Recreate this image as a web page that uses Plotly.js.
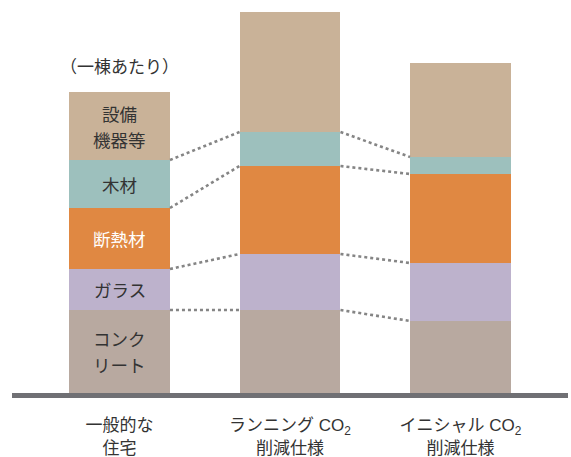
<!DOCTYPE html>
<html>
<head>
<meta charset="utf-8">
<script src="https://cdn.plot.ly/plotly-3.0.1.min.js"></script>
<style>html,body{margin:0;padding:0;background:#fff;}#chart{width:571px;height:457px;}</style>
</head>
<body>
<div id="chart"></div>
<script>
// Data (relative CO2 amounts)
const categories = ['一般的な<br>住宅', 'ランニング CO<sub>2</sub><br>削減仕様', 'イニシャル CO<sub>2</sub><br>削減仕様'];
const seriesNames = ['コンクリート', 'ガラス', '断熱材', '木材', '設備機器等'];
const concrete   = [83, 83, 72];
const glass      = [41, 56, 58];
const insulation = [61, 88, 89];
const wood       = [48, 34, 17];
const equipment  = [68, 120, 94];
// labels shown inside the first bar (one entry per text line)
const segmentLabels = [['コンク', 'リート'], ['ガラス'], ['断熱材'], ['木材'], ['設備', '機器等']];
const unitNote = '（一棟あたり）';

const series = [concrete, glass, insulation, wood, equipment];
const colors = ['#b8a9a0', '#bdb2cc', '#e08842', '#9dc0bd', '#c9b298'];
const labelColors = ['#333333', '#333333', '#ffffff', '#333333', '#333333'];
const xs = categories.map((c, i) => i);
const barWidth = 0.592;
const FONT = '"Noto Sans CJK JP", "Noto Sans", sans-serif';
const TICKFONT = '"Liberation Sans", "Noto Sans CJK JP", sans-serif';

const traces = [];
series.forEach((vals, k) => {
  traces.push({
    type: 'bar', x: xs, y: vals, name: seriesNames[k], width: barWidth,
    marker: {color: colors[k], line: {width: 0}}, hoverinfo: 'skip', showlegend: false
  });
});

// cumulative tops
const cum = series.map((_, k) => xs.map(i => series.slice(0, k + 1).reduce((s, a) => s + a[i], 0)));

// dotted connectors at each boundary (except total top)
for (let k = 0; k < series.length - 1; k++) {
  for (let i = 0; i < xs.length - 1; i++) {
    traces.push({
      type: 'scatter', mode: 'lines',
      x: [xs[i] + barWidth / 2, xs[i + 1] - barWidth / 2],
      y: [cum[k][i], cum[k][i + 1]],
      line: {color: '#858585', width: 2.6, dash: '3px,3px'},
      hoverinfo: 'skip', showlegend: false
    });
  }
}

const annotations = [];
series.forEach((vals, k) => {
  const base = cum[k][0] - vals[0];
  const mid = base + vals[0] / 2;
  const lines = segmentLabels[k];
  const gap = 26;
  lines.forEach((t, j) => {
    annotations.push({
      x: 0, y: mid, xref: 'x', yref: 'y', text: t, showarrow: false,
      yshift: ((lines.length - 1) / 2 - j) * gap,
      font: {family: FONT, size: 17.5, color: labelColors[k]}
    });
  });
});
annotations.push({
  x: 0, y: 328, xref: 'x', yref: 'y', text: unitNote, showarrow: false,
  font: {family: FONT, size: 17, color: '#333333'}
});

const layout = {
  width: 571, height: 457,
  margin: {l: 12, r: 3, t: 0, b: 64},
  paper_bgcolor: '#ffffff', plot_bgcolor: '#ffffff',
  barmode: 'stack', bargap: 0,
  showlegend: false,
  font: {family: FONT, color: '#333333'},
  xaxis: {
    range: [-0.6305, 2.6305], tickvals: xs, ticktext: categories,
    showgrid: false, zeroline: false, showline: true, linecolor: '#707074', linewidth: 5,
    ticks: '', tickfont: {family: TICKFONT, size: 17, color: '#333333'},
    ticklabelstandoff: 13, fixedrange: true
  },
  yaxis: {
    range: [0, 393], visible: false, showgrid: false, zeroline: false, fixedrange: true
  },
  annotations: annotations
};

Plotly.newPlot('chart', traces, layout, {displayModeBar: false, staticPlot: true});
</script>
</body>
</html>
